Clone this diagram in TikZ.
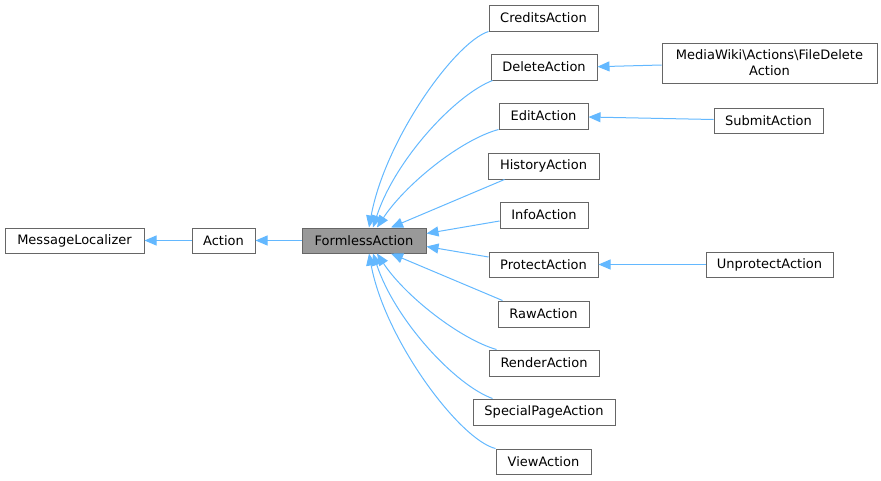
\documentclass[tikz,border=0pt]{standalone}
\usepackage{fontspec}
\setmainfont{DejaVu Sans}
\usetikzlibrary{arrows.meta}
\definecolor{edgeblue}{HTML}{63B8FF}
\definecolor{boxborder}{HTML}{666666}
\definecolor{boxgray}{HTML}{999999}
\tikzset{
  cls/.style={draw=boxborder, line width=1pt, fill=white, inner sep=0pt, minimum height=26pt, align=center, font=\fontsize{13}{16}\selectfont, text=black},
  cur/.style={cls, fill=boxgray},
  inh/.style={draw=edgeblue, line width=1pt, -{Triangle[length=12pt,width=10pt,fill=edgeblue]}},
}
\begin{document}
\begin{tikzpicture}[x=1pt,y=-1pt]
\useasboundingbox (0,0) rectangle (881,480);
% nodes
\node[cls, minimum width=139pt, minimum height=25pt] (msg) at (74.5,240.5) {MessageLocalizer};
\node[cls, minimum width=63pt, minimum height=25pt] (action) at (223.5,240.5) {Action};
\node[cur, minimum width=124pt, minimum height=25pt] (formless) at (364,240.5) {FormlessAction};
\node[cls, minimum width=109pt] (credits) at (543.5,18) {CreditsAction};
\node[cls, minimum width=106pt] (delete) at (544,67) {DeleteAction};
\node[cls, minimum width=89pt] (edit) at (543.5,116) {EditAction};
\node[cls, minimum width=111pt] (history) at (543.5,166) {HistoryAction};
\node[cls, minimum width=88pt] (info) at (544,215) {InfoAction};
\node[cls, minimum width=109pt, minimum height=25pt] (protect) at (543.5,264.5) {ProtectAction};
\node[cls, minimum width=91pt] (raw) at (543.5,314) {RawAction};
\node[cls, minimum width=110pt] (render) at (544,363) {RenderAction};
\node[cls, minimum width=142pt] (special) at (544,412) {SpecialPageAction};
\node[cls, minimum width=95pt, minimum height=25pt] (view) at (543.5,461.5) {ViewAction};
\node[cls, minimum width=215pt, minimum height=40pt] (filedelete) at (769.5,63) {MediaWiki\textbackslash Actions\textbackslash FileDelete\\Action};
\node[cls, minimum width=109pt, minimum height=25pt] (submit) at (768.5,120.5) {SubmitAction};
\node[cls, minimum width=127pt, minimum height=25pt] (unprotect) at (769.5,264.5) {UnprotectAction};
% edges
\draw[inh] (action.west) -- (msg.east);
\draw[inh] (formless.west) -- (action.east);
\draw[inh] (credits.south west) .. controls (455,42) and (385,140) .. ([xshift=5pt]formless.north);
\draw[inh] ([xshift=2pt]delete.south west) .. controls (455,95) and (395,160) .. ([xshift=9pt]formless.north);
\draw[inh] (edit.south west) .. controls (460,140) and (405,185) .. ([xshift=13pt]formless.north);
\draw[inh] ([xshift=17pt]history.south west) -- ([xshift=27pt]formless.north);
\draw[inh] ([yshift=-6pt]info.west) -- ([yshift=7pt]formless.east);
\draw[inh] ([yshift=7.5pt]protect.west) -- ([yshift=-6pt]formless.east);
\draw[inh] ([xshift=5pt]raw.north west) -- ([xshift=27pt]formless.south);
\draw[inh] ([xshift=8pt]render.north west) .. controls (460,339) and (405,296) .. ([xshift=13pt]formless.south);
\draw[inh] ([xshift=20pt]special.north west) .. controls (455,385) and (395,320) .. ([xshift=9pt]formless.south);
\draw[inh] (view.north west) .. controls (460,440) and (385,340) .. ([xshift=5pt]formless.south);
\draw[inh] ([yshift=-2pt]filedelete.west) -- ([yshift=0.3pt]delete.east);
\draw[inh] ([yshift=1pt]submit.west) -- ([yshift=-1pt]edit.east);
\draw[inh] (unprotect.west) -- (protect.east);
\end{tikzpicture}
\end{document}
